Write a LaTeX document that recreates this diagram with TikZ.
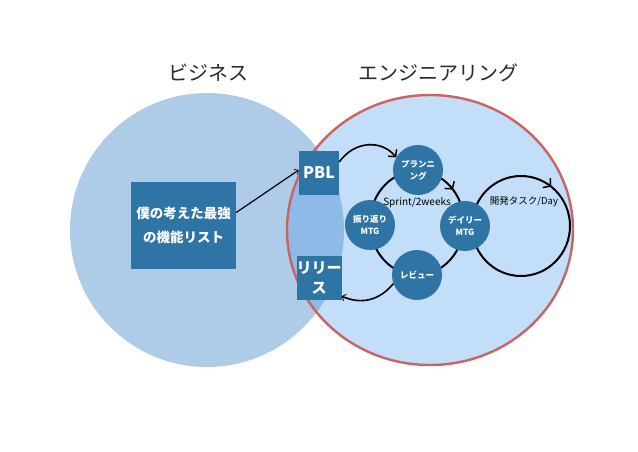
\documentclass[tikz,border=0pt]{standalone}
\usepackage{fontspec}
\setmainfont{Noto Sans CJK JP}
\usetikzlibrary{arrows.meta,decorations.markings,calc}
\definecolor{bizfill}{HTML}{AECBE8}
\definecolor{engfill}{HTML}{C2DEF8}
\definecolor{lensfill}{HTML}{8EBAE8}
\definecolor{engred}{HTML}{C96464}
\definecolor{nodeblue}{HTML}{2E75A6}
\definecolor{titlegray}{HTML}{2A2A2A}
\begin{document}
\begin{tikzpicture}[x=1pt,y=-1pt,
  box/.style={rectangle, fill=nodeblue, text=white, align=center, inner sep=0pt},
  stage/.style={circle, fill=nodeblue, text=white, align=center, inner sep=0pt,
    minimum size=50pt, font=\bfseries\fontsize{8.5}{12.5}\selectfont},
  title/.style={text=titlegray, font=\fontsize{20}{24}\selectfont},
  lbl/.style={text=black, inner sep=0pt},
  cyc/.style={draw=black, line width=2pt},
  arr/.style={draw=black, line width=1.6pt},
  barb/.style={-{Straight Barb[length=5pt,width=11pt,line width=1.5pt]}}
]
\useasboundingbox (0,0) rectangle (638,451);
% Venn circles
\fill[bizfill] (207,230) circle[radius=137];
\fill[engfill] (430,230) ellipse[x radius=143, y radius=135];
\begin{scope}
  \clip (207,230) circle[radius=137];
  \fill[lensfill] (430,230) ellipse[x radius=143, y radius=135];
\end{scope}
\draw[engred, line width=2.4pt] (430,230) ellipse[x radius=143, y radius=135];
% titles
\node[title] (tbiz) at (208,73) {ビジネス};
\node[title] (teng) at (438,73) {エンジニアリング};
% cycles
\draw[cyc, postaction={decorate}, decoration={markings,
  mark=at position 0.885 with {\arrow{Straight Barb[length=5pt,width=12pt,line width=1.5pt]}}}]
  (417,223) ellipse[x radius=47, y radius=52];
\draw[cyc, postaction={decorate}, decoration={markings,
  mark=at position 0.855 with {\arrow{Straight Barb[length=5pt,width=12pt,line width=1.5pt]}}}]
  (521,226) ellipse[x radius=49, y radius=50];
\node[lbl, font=\fontsize{10}{12}\selectfont] (sprint) at (417,203) {Sprint/2weeks};
\node[lbl, font=\fontsize{9.5}{12}\selectfont] (daytask) at (524,202) {開発タスク/Day};
% nodes
\node[box, minimum width=105pt, minimum height=87pt,
  font=\bfseries\fontsize{13.5}{24}\selectfont] (wish) at (183.5,225.5) {僕の考えた最強\\の機能リスト};
\node[box, minimum width=40pt, minimum height=44pt,
  font=\bfseries\fontsize{16}{19}\selectfont] (pbl) at (319,173) {PBL};
\node[box, minimum width=40pt, minimum height=44pt,
  font=\bfseries\fontsize{15}{19.5}\selectfont] (rel) at (319,278) {リリー\\ス};
\node[stage] (plan) at (418,170) {プランニ\\ング};
\node[stage] (furi) at (370,225) {振り返り\\MTG};
\node[stage] (daily) at (465,226) {デイリー\\MTG};
\node[stage] (review) at (417,275) {レビュー};
% connectors
\draw[line width=1.2pt, -{Straight Barb[length=3pt,width=6pt,line width=0.8pt]}]
  ([yshift=13pt]wish.east) -- ([yshift=3pt]pbl.west);
\draw[arr, barb] ([yshift=11pt]pbl.east) .. controls (355,140) and (382,140) .. (plan.150);
\draw[arr, -{Straight Barb[length=3pt,width=7pt,line width=0.8pt]}]
  (review.200) .. controls (380,300) and (362,305) .. ([yshift=4pt]rel.south east);
\end{tikzpicture}
\end{document}
